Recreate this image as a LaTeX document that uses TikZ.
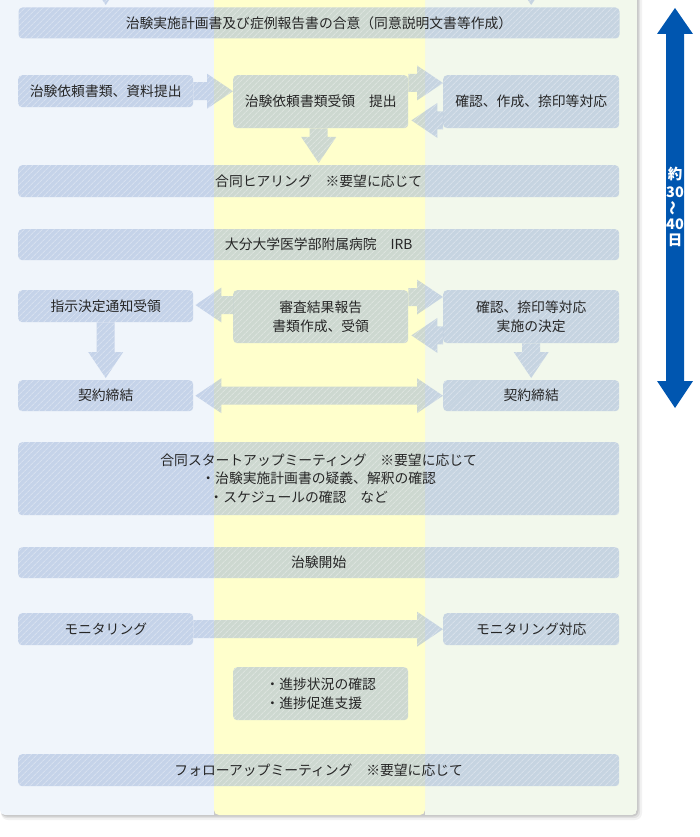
\documentclass[tikz,border=0pt]{standalone}
\usepackage{fontspec}
\newfontfamily\jpfont{Noto Sans CJK JP}
\usetikzlibrary{patterns.meta,calc}
\definecolor{leftbg}{RGB}{240,245,251}
\definecolor{midbg}{RGB}{255,255,204}
\definecolor{rightbg}{RGB}{242,248,236}
\definecolor{boxc}{RGB}{150,173,214}
\definecolor{textc}{RGB}{38,38,38}
\definecolor{bluec}{RGB}{0,86,176}
\tikzset{
  hatch/.style={preaction={fill=boxc,fill opacity=0.47},
    pattern={Lines[angle=45,distance=4pt,line width=1pt]},pattern color=white,fill opacity=0.3},
  box/.style={hatch,rounded corners=4pt,inner sep=0pt,text opacity=1,text=textc,
    font=\jpfont\fontsize{13.8}{18.5}\selectfont,anchor=north west,align=center},
  daytext/.style={text=white,font=\jpfont\bfseries\fontsize{14.5}{15}\selectfont,inner sep=0pt}
}
\newcommand\arrR[2]{\path[hatch] let \p1=#1, \p2=#2 in
  (\x1,\y2+9pt) -- (\x2-26pt,\y2+9pt) -- (\x2-26pt,\y2+17.5pt) -- (\p2) --
  (\x2-26pt,\y2-17.5pt) -- (\x2-26pt,\y2-9pt) -- (\x1,\y2-9pt) -- cycle;}
\newcommand\arrL[2]{\path[hatch] let \p1=#1, \p2=#2 in
  (\x1,\y2+9pt) -- (\x2+26pt,\y2+9pt) -- (\x2+26pt,\y2+17.5pt) -- (\p2) --
  (\x2+26pt,\y2-17.5pt) -- (\x2+26pt,\y2-9pt) -- (\x1,\y2-9pt) -- cycle;}
\newcommand\arrD[2]{\path[hatch] let \p1=#1, \p2=#2 in
  (\x2-9pt,\y1) -- (\x2-9pt,\y2+26pt) -- (\x2-17.5pt,\y2+26pt) -- (\p2) --
  (\x2+17.5pt,\y2+26pt) -- (\x2+9pt,\y2+26pt) -- (\x2+9pt,\y1) -- cycle;}
\newcommand\arrLR[2]{\path[hatch] let \p1=#1, \p2=#2 in
  (\p1) -- (\x1+26pt,\y1+17.5pt) -- (\x1+26pt,\y1+9pt) -- (\x2-26pt,\y1+9pt) --
  (\x2-26pt,\y1+17.5pt) -- (\x2,\y1) -- (\x2-26pt,\y1-17.5pt) -- (\x2-26pt,\y1-9pt) --
  (\x1+26pt,\y1-9pt) -- (\x1+26pt,\y1-17.5pt) -- cycle;}
\begin{document}
\begin{tikzpicture}[x=1pt,y=-1pt]
\useasboundingbox (0,0) rectangle (700,837);
\fill[white] (0,0) rectangle (700,837);
% shadow
\fill[black,opacity=0.05,rounded corners=7pt] (1,-20) rectangle (642,820);
\fill[black,opacity=0.07,rounded corners=6pt] (1,-20) rectangle (640,818);
\fill[black,opacity=0.10,rounded corners=6pt] (1,-20) rectangle (638.5,816.5);
% panel
\begin{scope}
\clip[rounded corners=5pt] (0,-20) rectangle (637,815);
\fill[leftbg] (0,-20) rectangle (214,815);
\fill[rightbg] (425,-20) rectangle (637,815);
\fill[midbg,rounded corners=5pt] (214,-20) rectangle (425,815);
\end{scope}
% boxes
\node[box,minimum width=601pt,minimum height=31pt] (top) at (18,7) {治験実施計画書及び症例報告書の合意（同意説明文書等作成）};
\node[box,minimum width=175pt,minimum height=32pt] (lb2) at (18,75) {治験依頼書類、資料提出};
\node[box,minimum width=175pt,minimum height=53pt] (mb2) at (233,75) {治験依頼書類受領　提出};
\node[box,minimum width=176pt,minimum height=53pt] (rb2) at (443,75) {確認、作成、捺印等対応};
\node[box,minimum width=601pt,minimum height=32pt] (hear) at (18,165) {合同ヒアリング　※要望に応じて};
\node[box,minimum width=601pt,minimum height=31pt] (irb) at (18,229) {大分大学医学部附属病院　IRB};
\node[box,minimum width=175pt,minimum height=32pt] (lb3) at (18,290) {指示決定通知受領};
\node[box,minimum width=175pt,minimum height=53pt] (mb3) at (233,290) {審査結果報告\\書類作成、受領};
\node[box,minimum width=176pt,minimum height=53pt] (rb3) at (443,290) {確認、捺印等対応\\実施の決定};
\node[box,minimum width=175pt,minimum height=31pt] (lc) at (18,380) {契約締結};
\node[box,minimum width=176pt,minimum height=31pt] (rc) at (443,380) {契約締結};
\node[box,minimum width=601pt,minimum height=73pt] (start) at (18,442) {合同スタートアップミーティング　※要望に応じて\\・治験実施計画書の疑義、解釈の確認\\・スケジュールの確認　など\hspace*{40pt}};
\node[box,minimum width=601pt,minimum height=31pt] (begin) at (18,547) {治験開始};
\node[box,minimum width=175pt,minimum height=32pt] (lm) at (18,613) {モニタリング};
\node[box,minimum width=176pt,minimum height=32pt] (rm) at (443,613) {モニタリング対応};
\node[box,minimum width=175pt,minimum height=53pt,align=left] (prog) at (233,667) {・進捗状況の確認\\・進捗促進支援};
\node[box,minimum width=601pt,minimum height=32pt] (follow) at (18,754) {フォローアップミーティング　※要望に応じて};
% cut-off arrows at top
\coordinate (u1) at (105.5,-40);
\coordinate (u2) at (531,-40);
\arrD{(u1)}{($(lb2.north |- top.north)+(0,-2)$)}
\arrD{(u2)}{($(rb2.north |- top.north)+(0,-2)$)}
% row 2
\arrR{(lb2.east)}{(mb2.west |- lb2.east)}
\arrR{($(mb2.north east)+(0,8)$)}{($(rb2.north west)+(0,8)$)}
\arrL{($(rb2.south west)+(0,-8)$)}{($(mb2.south east)+(3,-8)$)}
\arrD{(mb2.south)}{($(hear.north)+(0,-2)$)}
% row 3
\arrL{($(mb3.north west)+(0,15)$)}{($(lb3.north east)+(2,15)$)}
\arrR{($(mb3.north east)+(0,7)$)}{($(rb3.north west)+(0,7)$)}
\arrL{($(rb3.south west)+(0,-8)$)}{($(mb3.south east)+(3,-8)$)}
\arrD{(lb3.south)}{($(lc.north)+(0,-2)$)}
\arrD{(rb3.south)}{($(rc.north)+(0,-2)$)}
\arrLR{($(lc.east)+(2,0)$)}{(rc.west)}
% monitoring
\arrR{(lm.east)}{(rm.west)}
% duration arrow
\fill[bluec] (675,8) -- (693,34) -- (684,34) -- (684,381) -- (693,381) -- (675,408)
  -- (657,381) -- (666,381) -- (666,34) -- (657,34) -- cycle;
\node[daytext] (d1) at (675,174) {約};
\node[daytext] (d2) at (675,192.5) {30};
\node[daytext,rotate=90] (d3) at (675,208) {〜};
\node[daytext] (d4) at (675,224) {40};
\node[daytext] (d5) at (675,240.5) {日};
\end{tikzpicture}
\end{document}
